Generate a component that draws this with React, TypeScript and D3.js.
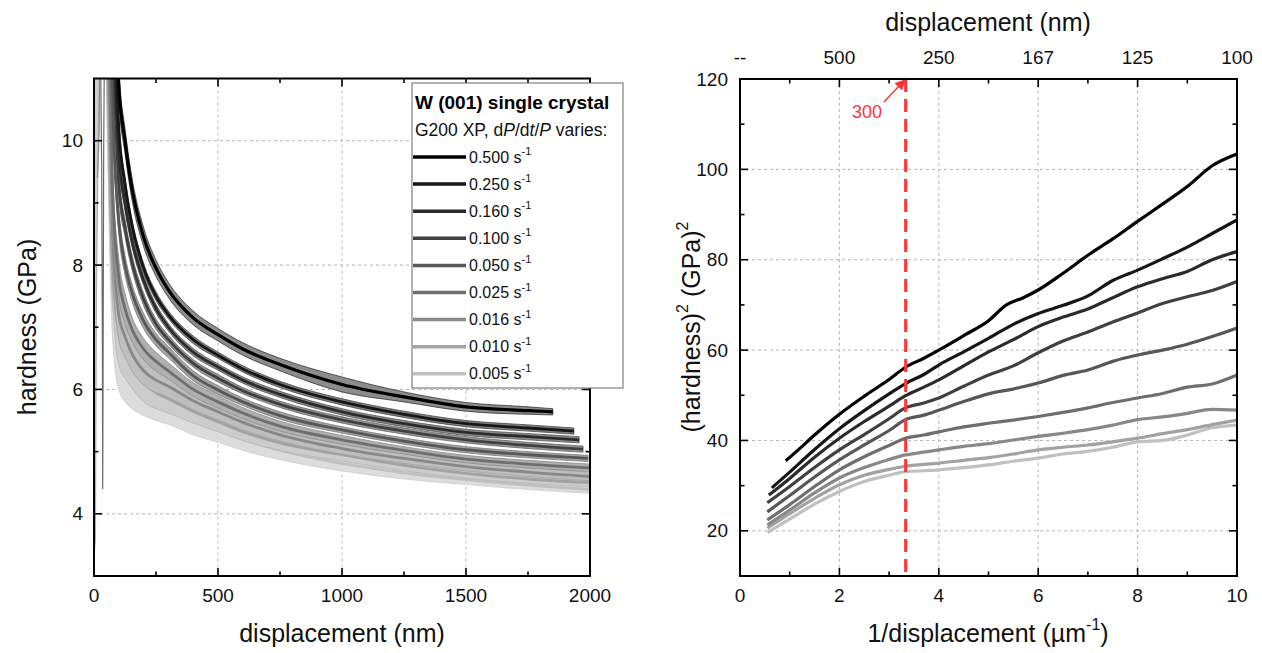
import React from "react";
import * as d3 from "d3";

// ---------- data ----------
const rateLabels = ["0.500", "0.250", "0.160", "0.100", "0.050", "0.025", "0.016", "0.010", "0.005"];
const rateColors = ["#000000", "#161616", "#2b2b2b", "#404040", "#575757", "#6e6e6e", "#888888", "#a2a2a2", "#c0c0c0"];

// left panel: [displacement nm, hardness GPa, std GPa]
const left500 = [[80, 13, 0.3], [100, 10.9, 0.25], [125, 10.0, 0.2], [150, 9.3, 0.18], [200, 8.45, 0.15], [250, 7.95, 0.13], [300, 7.6, 0.12], [400, 7.15, 0.11], [500, 6.88, 0.1], [600, 6.65, 0.1], [750, 6.4, 0.1], [1000, 6.08, 0.12], [1250, 5.88, 0.08], [1500, 5.72, 0.07], [1750, 5.66, 0.06], [1850, 5.64, 0.05]];
const left250 = [[75, 13, 0.2], [100, 10.2, 0.15], [125, 9.3, 0.12], [150, 8.7, 0.1], [200, 7.95, 0.08], [250, 7.5, 0.07], [300, 7.2, 0.06], [400, 6.8, 0.06], [500, 6.55, 0.05], [600, 6.33, 0.05], [750, 6.08, 0.05], [1000, 5.8, 0.05], [1250, 5.6, 0.05], [1500, 5.45, 0.05], [1750, 5.38, 0.05], [1935, 5.33, 0.05]];
const left160 = [[70, 13, 0.2], [100, 9.8, 0.15], [125, 9.0, 0.12], [150, 8.45, 0.1], [200, 7.75, 0.08], [250, 7.3, 0.07], [300, 7.0, 0.06], [400, 6.6, 0.06], [500, 6.36, 0.05], [600, 6.15, 0.05], [750, 5.92, 0.05], [1000, 5.64, 0.05], [1250, 5.45, 0.05], [1500, 5.31, 0.05], [1750, 5.24, 0.05], [1956, 5.19, 0.05]];
const left100 = [[65, 13, 0.25], [100, 9.3, 0.18], [125, 8.6, 0.14], [150, 8.1, 0.12], [200, 7.45, 0.1], [250, 7.05, 0.08], [300, 6.8, 0.07], [400, 6.42, 0.06], [500, 6.18, 0.06], [600, 5.98, 0.05], [750, 5.76, 0.05], [1000, 5.51, 0.05], [1250, 5.33, 0.05], [1500, 5.19, 0.05], [1750, 5.1, 0.05], [1972, 5.04, 0.05]];
const left050 = [[60, 13, 0.3], [80, 10.0, 0.25], [100, 8.7, 0.2], [125, 8.0, 0.16], [150, 7.6, 0.14], [200, 7.1, 0.12], [250, 6.8, 0.1], [300, 6.6, 0.09], [400, 6.22, 0.08], [500, 5.99, 0.07], [600, 5.8, 0.06], [750, 5.58, 0.06], [1000, 5.35, 0.05], [1250, 5.17, 0.05], [1500, 5.03, 0.05], [1750, 4.95, 0.05], [1992, 4.89, 0.05]];
const left025 = [[55, 13, 0.4], [75, 9.2, 0.35], [100, 7.8, 0.3], [125, 7.3, 0.25], [150, 7.0, 0.2], [200, 6.65, 0.17], [250, 6.45, 0.15], [300, 6.3, 0.13], [400, 6.0, 0.11], [500, 5.8, 0.1], [600, 5.62, 0.09], [750, 5.41, 0.08], [1000, 5.19, 0.07], [1250, 5.02, 0.06], [1500, 4.88, 0.06], [1750, 4.8, 0.06], [2000, 4.74, 0.06]];
const left016 = [[50, 13, 0.5], [75, 8.5, 0.45], [100, 7.2, 0.4], [125, 6.85, 0.33], [150, 6.6, 0.28], [200, 6.3, 0.23], [250, 6.15, 0.2], [300, 6.05, 0.18], [400, 5.82, 0.15], [500, 5.64, 0.13], [600, 5.47, 0.12], [750, 5.27, 0.1], [1000, 5.05, 0.09], [1250, 4.89, 0.08], [1500, 4.76, 0.07], [1750, 4.67, 0.07], [2000, 4.6, 0.07]];
const left010 = [[48, 13, 0.6], [75, 8.0, 0.55], [100, 6.9, 0.5], [125, 6.6, 0.42], [150, 6.4, 0.36], [200, 6.1, 0.3], [250, 5.95, 0.26], [300, 5.85, 0.23], [400, 5.65, 0.19], [500, 5.48, 0.16], [600, 5.32, 0.14], [750, 5.14, 0.12], [1000, 4.95, 0.1], [1250, 4.78, 0.09], [1500, 4.65, 0.08], [1750, 4.56, 0.07], [2000, 4.5, 0.07]];
const left005 = [[45, 13, 0.8], [75, 7.6, 0.8], [100, 6.7, 0.7], [125, 6.4, 0.6], [150, 6.2, 0.5], [200, 5.98, 0.4], [250, 5.85, 0.35], [300, 5.74, 0.3], [400, 5.52, 0.25], [500, 5.35, 0.2], [600, 5.2, 0.18], [750, 5.02, 0.15], [1000, 4.81, 0.12], [1250, 4.66, 0.1], [1500, 4.55, 0.08], [1750, 4.46, 0.07], [2000, 4.39, 0.06]];
const leftSeries = [left500, left250, left160, left100, left050, left025, left016, left010, left005];

// initial loading spikes (left panel): [displacement, low, high]
const spikeBand = [[0, 3.3, 11.5], [6, 3.6, 11.5], [10, 7.5, 11.5], [16, 9.6, 11.5], [22, 11.2, 11.5]];
const spikeLineA = [[26, 11.5], [31, 9.6], [34, 6.5], [35, 4.4], [36.5, 6.2], [39, 9.8], [42, 11.5]];
const spikeLineB = [[14, 9.4], [18, 9.8], [21, 10.2], [24, 11.5]];

// right panel: [1/displacement um^-1, hardness^2 GPa^2]
const right500 = [[0.92, 35.5], [1.2, 38.2], [1.5, 41.2], [2.0, 45.8], [2.5, 49.8], [3.0, 53.5], [3.33, 56.2], [3.7, 58.2], [4.0, 60.0], [4.5, 63.2], [5.0, 66.5], [5.36, 70.0], [5.7, 71.6], [6.0, 73.3], [6.5, 77.0], [7.0, 81.0], [7.5, 84.6], [8.0, 88.5], [8.5, 92.3], [9.0, 96.2], [9.5, 100.8], [10, 103.4]];
const right250 = [[0.64, 29.5], [1.0, 33.0], [1.5, 38.0], [2.0, 42.6], [2.5, 46.6], [3.0, 50.3], [3.33, 52.6], [3.7, 54.6], [4.0, 56.7], [4.5, 59.6], [5.0, 62.6], [5.5, 65.7], [6.0, 68.1], [6.5, 69.9], [7.0, 72.0], [7.5, 75.4], [8.0, 77.7], [8.5, 80.2], [9.0, 82.8], [9.5, 85.8], [10, 88.8]];
const right160 = [[0.58, 27.9], [1.0, 31.6], [1.5, 36.3], [2.0, 40.5], [2.5, 44.2], [3.0, 47.6], [3.33, 49.9], [3.7, 51.8], [4.0, 53.4], [4.5, 56.5], [5.0, 59.6], [5.5, 62.3], [6.0, 65.2], [6.5, 67.3], [7.0, 69.1], [7.5, 71.6], [8.0, 74.0], [8.5, 75.8], [9.0, 77.4], [9.5, 80.0], [10, 81.8]];
const right100 = [[0.55, 26.2], [1.0, 29.8], [1.5, 34.0], [2.0, 37.9], [2.5, 41.3], [3.0, 44.8], [3.33, 47.2], [3.7, 48.3], [4.0, 49.4], [4.5, 52.0], [5.0, 54.5], [5.5, 56.5], [6.0, 59.4], [6.5, 62.0], [7.0, 64.0], [7.5, 66.2], [8.0, 68.2], [8.5, 70.3], [9.0, 71.8], [9.5, 73.2], [10, 75.2]];
const right050 = [[0.55, 24.2], [1.0, 27.8], [1.5, 31.9], [2.0, 35.7], [2.5, 39.0], [3.0, 42.2], [3.33, 44.6], [3.7, 45.6], [4.0, 46.7], [4.5, 48.6], [5.0, 50.3], [5.5, 51.4], [6.0, 52.7], [6.5, 54.4], [7.0, 55.6], [7.5, 57.5], [8.0, 58.9], [8.5, 60.0], [9.0, 61.3], [9.5, 63.0], [10, 64.9]];
const right025 = [[0.55, 22.4], [1.0, 25.8], [1.5, 29.8], [2.0, 33.5], [2.5, 36.4], [3.0, 38.9], [3.33, 40.5], [3.7, 41.2], [4.0, 41.9], [4.5, 43.0], [5.0, 43.8], [5.5, 44.5], [6.0, 45.3], [6.5, 46.2], [7.0, 47.2], [7.5, 48.4], [8.0, 49.4], [8.5, 50.4], [9.0, 51.8], [9.5, 52.5], [10, 54.5]];
const right016 = [[0.55, 21.3], [1.0, 24.6], [1.5, 28.4], [2.0, 31.7], [2.5, 34.0], [3.0, 35.8], [3.33, 36.8], [3.7, 37.4], [4.0, 37.9], [4.5, 38.7], [5.0, 39.3], [5.5, 40.1], [6.0, 40.9], [6.5, 41.6], [7.0, 42.4], [7.5, 43.4], [8.0, 44.6], [8.5, 45.2], [9.0, 46.0], [9.5, 46.9], [10, 46.7]];
const right010 = [[0.55, 20.6], [1.0, 23.8], [1.5, 27.2], [2.0, 30.2], [2.5, 32.3], [3.0, 33.6], [3.33, 34.3], [3.7, 34.7], [4.0, 35.0], [4.5, 35.6], [5.0, 36.2], [5.5, 37.0], [6.0, 37.9], [6.5, 38.5], [7.0, 39.0], [7.5, 39.7], [8.0, 40.5], [8.5, 41.5], [9.0, 42.4], [9.5, 43.5], [10, 44.5]];
const right005 = [[0.55, 19.6], [1.0, 22.6], [1.5, 25.9], [2.0, 28.7], [2.5, 30.9], [3.0, 32.3], [3.33, 33.1], [3.7, 33.3], [4.0, 33.5], [4.5, 34.0], [5.0, 34.6], [5.5, 35.4], [6.0, 36.1], [6.5, 37.0], [7.0, 37.6], [7.5, 38.5], [8.0, 39.7], [8.5, 40.0], [9.0, 41.2], [9.5, 42.8], [10, 43.4]];
const rightSeries = [right500, right250, right160, right100, right050, right025, right016, right010, right005];

// ticks
const leftXTicks = [0, 500, 1000, 1500, 2000];
const leftXMinor = [250, 750, 1250, 1750];
const leftYTicks = [4, 6, 8, 10];
const leftYMinor = [5, 7, 9];
const rightXTicks = [0, 2, 4, 6, 8, 10];
const rightXMinor = [1, 3, 5, 7, 9];
const rightYTicks = [20, 40, 60, 80, 100, 120];
const rightYMinor = [30, 50, 70, 90, 110];
const topTickLabels = ["--", "500", "250", "167", "125", "100"];
const markerDepth = 300; // nm

// ---------- layout ----------
const FONT = "'Liberation Sans', Arial, Helvetica, sans-serif";
const xL = d3.scaleLinear().domain([0, 2000]).range([94, 590]);
const yL = d3.scaleLinear().domain([3, 11]).range([576, 78.5]);
const xR = d3.scaleLinear().domain([0, 10]).range([740, 1237]);
const yR = d3.scaleLinear().domain([10, 120]).range([576, 79]);

function Grid({ xs, ys, xt, yt }: any) {
  const [x0, x1] = xs.range();
  const [y1, y0] = ys.range();
  return (
    <g>
      {xt.filter((v: number) => xs(v) > x0 + 1 && xs(v) < x1 - 1).map((v: number) => (
        <line key={"gx" + v} x1={xs(v)} x2={xs(v)} y1={y0} y2={y1} stroke="#b5b5b5" strokeDasharray="3,3" strokeWidth={1} />
      ))}
      {yt.filter((v: number) => ys(v) > y0 + 1 && ys(v) < y1 - 1).map((v: number) => (
        <line key={"gy" + v} y1={ys(v)} y2={ys(v)} x1={x0} x2={x1} stroke="#b5b5b5" strokeDasharray="3,3" strokeWidth={1} />
      ))}
    </g>
  );
}

function Ticks({ xs, ys, xt, xm, yt, ym }: any) {
  const [x0, x1] = xs.range();
  const [y1, y0] = ys.range();
  const M = 8, m = 4.5;
  const out: any[] = [];
  xt.forEach((v: number) => {
    out.push(<line key={"xb" + v} x1={xs(v)} x2={xs(v)} y1={y1} y2={y1 - M} />);
    out.push(<line key={"xt" + v} x1={xs(v)} x2={xs(v)} y1={y0} y2={y0 + M} />);
  });
  xm.forEach((v: number) => {
    out.push(<line key={"xbm" + v} x1={xs(v)} x2={xs(v)} y1={y1} y2={y1 - m} />);
    out.push(<line key={"xtm" + v} x1={xs(v)} x2={xs(v)} y1={y0} y2={y0 + m} />);
  });
  yt.forEach((v: number) => {
    out.push(<line key={"yl" + v} y1={ys(v)} y2={ys(v)} x1={x0} x2={x0 + M} />);
    out.push(<line key={"yr" + v} y1={ys(v)} y2={ys(v)} x1={x1} x2={x1 - M} />);
  });
  ym.forEach((v: number) => {
    out.push(<line key={"ylm" + v} y1={ys(v)} y2={ys(v)} x1={x0} x2={x0 + m} />);
    out.push(<line key={"yrm" + v} y1={ys(v)} y2={ys(v)} x1={x1} x2={x1 - m} />);
  });
  return (
    <g stroke="#000" strokeWidth={1.6}>
      {out}
      <rect x={x0} y={y0} width={x1 - x0} height={y1 - y0} fill="none" strokeWidth={2} />
    </g>
  );
}

export default function App() {
  const lineL = d3.line<any>().x((d) => xL(d[0])).y((d) => yL(d[1])).curve(d3.curveMonotoneX);
  const areaL = d3.area<any>().x((d) => xL(d[0])).y0((d) => yL(d[1] - d[2])).y1((d) => yL(d[1] + d[2])).curve(d3.curveMonotoneX);
  const spikeArea = d3.area<any>().x((d) => xL(d[0])).y0((d) => yL(d[1])).y1((d) => yL(d[2]));
  const spikeLine = d3.line<any>().x((d) => xL(d[0])).y((d) => yL(d[1]));
  const lineR = d3.line<any>().x((d) => xR(d[0])).y((d) => yR(d[1])).curve(d3.curveMonotoneX);

  const order = rateLabels.map((_, i) => i).reverse();
  const legendX = 412, legendY = 83, legendW = 211, legendH = 305;
  const rowY = (i: number) => 157 + i * 27.1;
  const xMarker = xR(1000 / markerDepth);

  return (
    <svg width={1262} height={653} style={{ position: "absolute", left: 0, top: 0, background: "#fff" }} fontFamily={FONT}>
      <defs>
        <clipPath id="clipL"><rect x={94} y={78.5} width={496} height={497.5} /></clipPath>
        <clipPath id="clipR"><rect x={740} y={79} width={497} height={497} /></clipPath>
        <marker id="arrowRed" viewBox="0 0 10 10" refX="9" refY="5" markerWidth="7" markerHeight="7" orient="auto">
          <path d="M0,0 L10,5 L0,10 z" fill="#ff3333" />
        </marker>
      </defs>

      {/* ---------------- LEFT PANEL ---------------- */}
      <Grid xs={xL} ys={yL} xt={leftXTicks} yt={leftYTicks} />
      <g clipPath="url(#clipL)">
        <path d={spikeArea(spikeBand) || ""} fill="#cfcfcf" stroke="#9a9a9a" strokeWidth={0.8} />
        {order.map((i) => {
          const c = rateColors[i];
          const fill = d3.interpolateRgb(c, "#ffffff")(i === 0 ? 0.55 : 0.45);
          return (
            <g key={"ls" + i}>
              <path d={areaL(leftSeries[i] as any) || ""} fill={fill} stroke={d3.interpolateRgb(c, "#ffffff")(0.2)} strokeWidth={0.8} />
              <path d={lineL(leftSeries[i] as any) || ""} fill="none" stroke={c} strokeWidth={i === 0 ? 3.2 : 2.8} />
            </g>
          );
        })}
        <path d={spikeLine(spikeLineA) || ""} fill="none" stroke="#6a6a6a" strokeWidth={1.2} />
        <path d={spikeLine(spikeLineB) || ""} fill="none" stroke="#8a8a8a" strokeWidth={1.2} />
      </g>
      <Ticks xs={xL} ys={yL} xt={leftXTicks} xm={leftXMinor} yt={leftYTicks} ym={leftYMinor} />
      <g fontSize={19} fill="#111">
        {leftXTicks.map((v) => (
          <text key={"lxl" + v} x={xL(v)} y={595} textAnchor="middle" dominantBaseline="central">{v}</text>
        ))}
        {leftYTicks.map((v) => (
          <text key={"lyl" + v} x={83} y={yL(v)} textAnchor="end" dominantBaseline="central">{v}</text>
        ))}
      </g>
      <text x={342} y={633} fontSize={25} textAnchor="middle" dominantBaseline="central" fill="#111">displacement (nm)</text>
      <text transform="translate(27,327) rotate(-90)" fontSize={25} textAnchor="middle" dominantBaseline="central" fill="#111">hardness (GPa)</text>

      {/* legend */}
      <g>
        <rect x={legendX} y={legendY} width={legendW} height={legendH} fill="#fff" stroke="#666" strokeWidth={1} />
        <text x={415} y={102} fontSize={19} fontWeight="bold" dominantBaseline="central" fill="#000">W (001) single crystal</text>
        <text x={415} y={130} fontSize={17.5} dominantBaseline="central" fill="#111">
          G200 XP, d<tspan fontStyle="italic">P</tspan>/d<tspan fontStyle="italic">t</tspan>/<tspan fontStyle="italic">P</tspan> varies:
        </text>
        {rateLabels.map((lab, i) => (
          <g key={"lg" + i}>
            <line x1={413} x2={466} y1={rowY(i)} y2={rowY(i)} stroke={rateColors[i]} strokeWidth={3.5} />
            <text x={469} y={rowY(i)} fontSize={16} dominantBaseline="central" fill="#111">
              {lab} s<tspan fontSize={11} dy={-6}>-1</tspan>
            </text>
          </g>
        ))}
      </g>

      {/* ---------------- RIGHT PANEL ---------------- */}
      <Grid xs={xR} ys={yR} xt={rightXTicks} yt={rightYTicks} />
      <g clipPath="url(#clipR)">
        {order.map((i) => (
          <path key={"rs" + i} d={lineR(rightSeries[i] as any) || ""} fill="none" stroke={rateColors[i]} strokeWidth={3.2} />
        ))}
      </g>
      <line x1={xMarker} x2={xMarker} y1={yR(120)} y2={yR(10)} stroke="#ff3333" strokeWidth={3} strokeDasharray="13,7" />
      <line x1={884} y1={102} x2={xMarker - 1} y2={yR(120) + 1} stroke="#ff3333" strokeWidth={1.5} markerEnd="url(#arrowRed)" />
      <text x={867} y={112} fontSize={18} textAnchor="middle" dominantBaseline="central" fill="#ff3333">{markerDepth}</text>
      <Ticks xs={xR} ys={yR} xt={rightXTicks} xm={rightXMinor} yt={rightYTicks} ym={rightYMinor} />
      <g fontSize={19} fill="#111">
        {rightXTicks.map((v) => (
          <text key={"rxl" + v} x={xR(v)} y={595} textAnchor="middle" dominantBaseline="central">{v}</text>
        ))}
        {rightXTicks.map((v, i) => (
          <text key={"rtl" + v} x={xR(v)} y={57} textAnchor="middle" dominantBaseline="central">{topTickLabels[i]}</text>
        ))}
        {rightYTicks.map((v) => (
          <text key={"ryl" + v} x={728} y={yR(v)} textAnchor="end" dominantBaseline="central">{v}</text>
        ))}
      </g>
      <text x={988} y={22} fontSize={25} textAnchor="middle" dominantBaseline="central" fill="#111">displacement (nm)</text>
      <text x={988} y={633} fontSize={25} textAnchor="middle" dominantBaseline="central" fill="#111">
        1/displacement (µm<tspan fontSize={16} dy={-9}>-1</tspan><tspan dy={9}>)</tspan>
      </text>
      <text transform="translate(691,327) rotate(-90)" fontSize={25} textAnchor="middle" dominantBaseline="central" fill="#111">
        (hardness)<tspan fontSize={16} dy={-9}>2</tspan><tspan dy={9}> (GPa)</tspan><tspan fontSize={16} dy={-9}>2</tspan>
      </text>
    </svg>
  );
}
